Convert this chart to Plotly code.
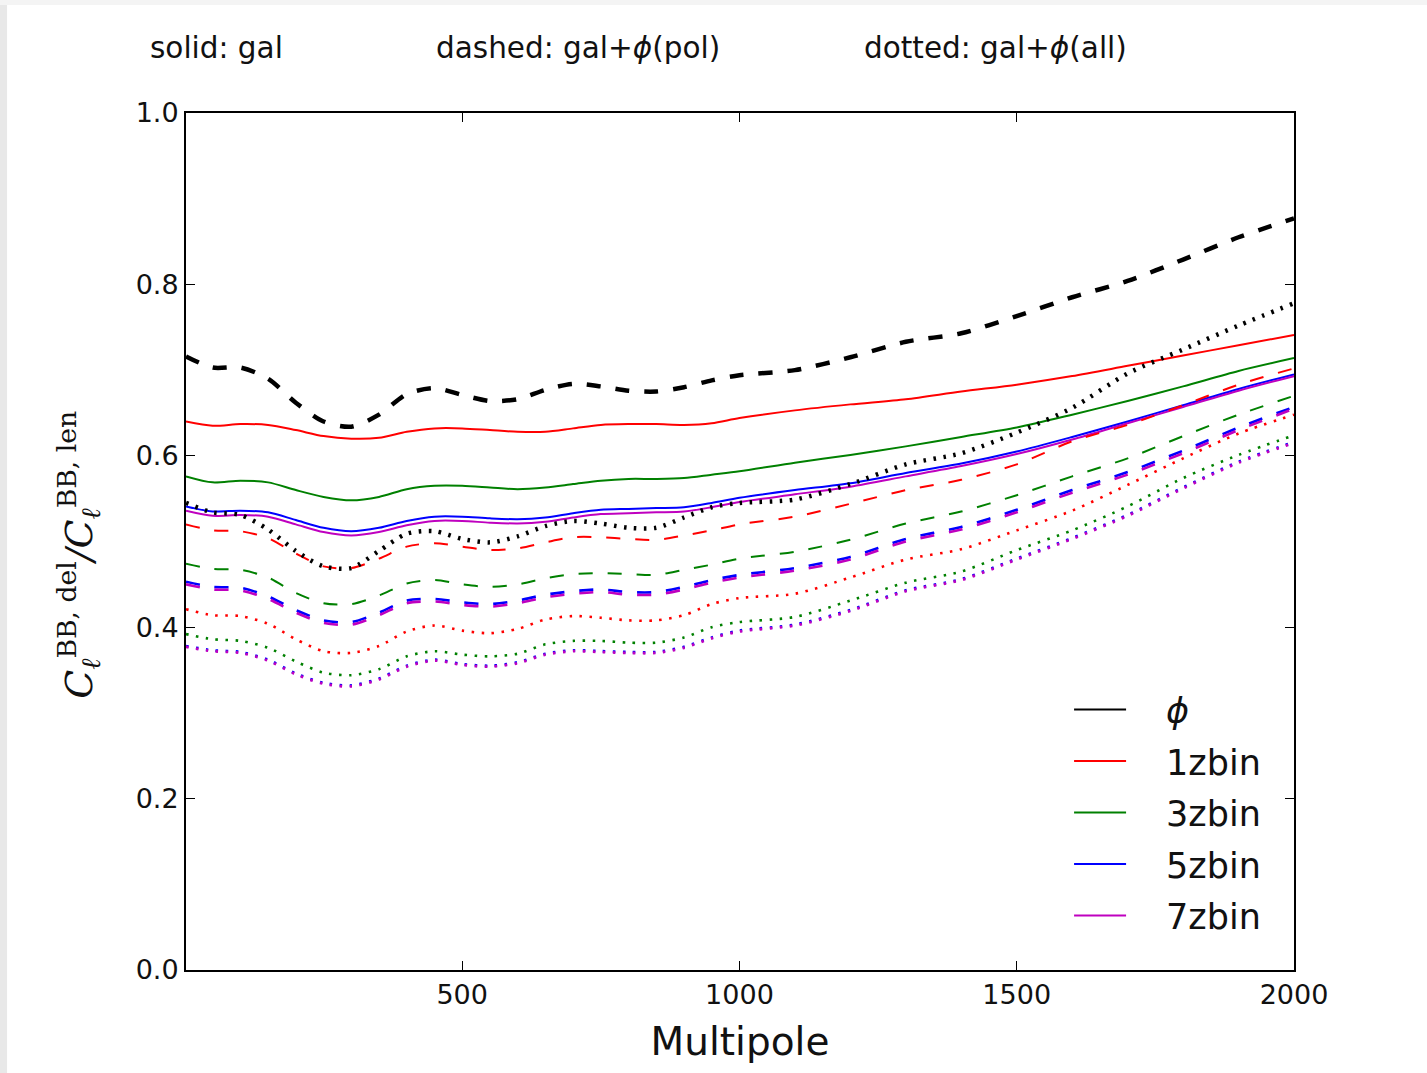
import plotly.graph_objects as go

# ---------------- data ----------------
ell = [2, 50, 100, 150, 200, 250, 300, 350, 400, 450, 500, 550, 600, 650, 700, 750,
       800, 850, 900, 950, 1000, 1100, 1200, 1300, 1400, 1500, 1600, 1700, 1800, 1900, 2000]

# solid: gal
gal_1zbin = [0.640, 0.635, 0.637, 0.636, 0.630, 0.623, 0.620, 0.621, 0.628, 0.632, 0.632, 0.630, 0.628, 0.628,
             0.632, 0.636, 0.637, 0.637, 0.636, 0.638, 0.644, 0.653, 0.660, 0.666, 0.675, 0.683, 0.693, 0.705,
             0.717, 0.729, 0.741]
gal_3zbin = [0.576, 0.569, 0.571, 0.569, 0.560, 0.552, 0.548, 0.552, 0.561, 0.565, 0.565, 0.563, 0.561, 0.563,
             0.567, 0.571, 0.573, 0.573, 0.574, 0.578, 0.582, 0.592, 0.601, 0.611, 0.622, 0.633, 0.648, 0.664,
             0.681, 0.699, 0.714]
gal_5zbin = [0.541, 0.535, 0.536, 0.534, 0.525, 0.516, 0.512, 0.516, 0.524, 0.529, 0.529, 0.527, 0.526, 0.528,
             0.533, 0.537, 0.538, 0.539, 0.540, 0.545, 0.551, 0.560, 0.568, 0.580, 0.591, 0.605, 0.622, 0.640,
             0.659, 0.678, 0.695]
gal_7zbin = [0.536, 0.530, 0.531, 0.529, 0.520, 0.511, 0.507, 0.511, 0.519, 0.524, 0.524, 0.522, 0.521, 0.523,
             0.528, 0.532, 0.533, 0.534, 0.535, 0.540, 0.546, 0.555, 0.564, 0.576, 0.588, 0.602, 0.619, 0.638,
             0.657, 0.676, 0.693]

# dashed: gal + phi(pol)
pol_phi = [0.716, 0.703, 0.703, 0.690, 0.662, 0.640, 0.634, 0.648, 0.672, 0.679, 0.671, 0.664, 0.666, 0.677,
           0.684, 0.681, 0.676, 0.675, 0.680, 0.688, 0.694, 0.700, 0.715, 0.733, 0.743, 0.763, 0.785, 0.804,
           0.829, 0.855, 0.877]
pol_1zbin = [0.520, 0.513, 0.512, 0.504, 0.486, 0.471, 0.469, 0.480, 0.494, 0.498, 0.494, 0.490, 0.492, 0.499,
             0.505, 0.505, 0.503, 0.502, 0.507, 0.513, 0.520, 0.529, 0.544, 0.560, 0.572, 0.590, 0.617, 0.636,
             0.659, 0.683, 0.702]
pol_3zbin = [0.474, 0.468, 0.467, 0.458, 0.440, 0.428, 0.427, 0.437, 0.451, 0.455, 0.450, 0.447, 0.450, 0.457,
             0.462, 0.463, 0.462, 0.461, 0.467, 0.473, 0.480, 0.488, 0.502, 0.521, 0.535, 0.554, 0.576, 0.597,
             0.623, 0.648, 0.670]
pol_5zbin = [0.453, 0.447, 0.446, 0.436, 0.420, 0.408, 0.406, 0.417, 0.431, 0.433, 0.429, 0.427, 0.431, 0.438,
             0.442, 0.444, 0.441, 0.441, 0.447, 0.455, 0.461, 0.469, 0.482, 0.503, 0.517, 0.537, 0.560, 0.581,
             0.606, 0.633, 0.657]
pol_7zbin = [0.450, 0.444, 0.443, 0.433, 0.417, 0.405, 0.403, 0.414, 0.428, 0.430, 0.426, 0.424, 0.428, 0.435,
             0.439, 0.441, 0.438, 0.438, 0.444, 0.452, 0.458, 0.466, 0.479, 0.500, 0.514, 0.534, 0.557, 0.578,
             0.603, 0.630, 0.655]

# dotted: gal + phi(all)
all_phi = [0.545, 0.534, 0.531, 0.514, 0.489, 0.471, 0.469, 0.489, 0.509, 0.512, 0.503, 0.499, 0.506, 0.518,
           0.524, 0.521, 0.516, 0.516, 0.528, 0.540, 0.545, 0.549, 0.567, 0.590, 0.603, 0.627, 0.656, 0.696,
           0.724, 0.752, 0.778]
all_1zbin = [0.421, 0.414, 0.413, 0.404, 0.386, 0.372, 0.370, 0.378, 0.395, 0.402, 0.396, 0.393, 0.398, 0.409,
             0.413, 0.411, 0.408, 0.408, 0.414, 0.427, 0.434, 0.439, 0.458, 0.479, 0.491, 0.513, 0.536, 0.566,
             0.597, 0.626, 0.648]
all_3zbin = [0.392, 0.386, 0.384, 0.376, 0.360, 0.347, 0.344, 0.351, 0.366, 0.372, 0.368, 0.366, 0.369, 0.380,
             0.384, 0.384, 0.382, 0.382, 0.388, 0.400, 0.406, 0.412, 0.431, 0.452, 0.465, 0.490, 0.513, 0.541,
             0.574, 0.601, 0.624]
all_5zbin = [0.378, 0.373, 0.371, 0.362, 0.346, 0.335, 0.332, 0.340, 0.355, 0.362, 0.357, 0.355, 0.359, 0.369,
             0.373, 0.372, 0.371, 0.371, 0.377, 0.388, 0.396, 0.403, 0.420, 0.443, 0.456, 0.480, 0.504, 0.531,
             0.563, 0.593, 0.616]
all_7zbin = [0.377, 0.372, 0.370, 0.361, 0.345, 0.334, 0.331, 0.339, 0.354, 0.361, 0.356, 0.354, 0.358, 0.368,
             0.372, 0.371, 0.370, 0.370, 0.376, 0.387, 0.395, 0.402, 0.419, 0.442, 0.455, 0.479, 0.503, 0.530,
             0.562, 0.592, 0.615]

legend_names = ["<i>ϕ</i>", "1zbin", "3zbin", "5zbin", "7zbin"]
x_ticks = [500, 1000, 1500, 2000]
y_ticks = [0.0, 0.2, 0.4, 0.6, 0.8, 1.0]

# ---------------- styling ----------------
BLACK, RED, GREEN, BLUE, MAG = "#000000", "#ff0000", "#008000", "#0000ff", "#bf00bf"
DASH = "14px,15px"
DOT = "2.5px,7.5px"

fig = go.Figure()

def add(y, color, width, dash, name=None, show=False, group=None):
    fig.add_trace(go.Scatter(
        x=ell, y=y, mode="lines", name=name, showlegend=show, legendgroup=group,
        line=dict(color=color, width=width, dash=dash, shape="spline", smoothing=0.8),
        hoverinfo="skip"))

# solid
add(gal_1zbin, RED, 2.0, "solid")
add(gal_3zbin, GREEN, 2.0, "solid")
add(gal_5zbin, BLUE, 2.0, "solid")
add(gal_7zbin, MAG, 2.0, "solid")
# dashed
add(pol_phi, BLACK, 4.5, DASH)
add(pol_1zbin, RED, 2.0, DASH)
add(pol_3zbin, GREEN, 2.0, DASH)
add(pol_5zbin, BLUE, 2.6, DASH)
add(pol_7zbin, MAG, 2.6, DASH)
# dotted
add(all_phi, BLACK, 4.5, DOT)
add(all_1zbin, RED, 2.6, DOT)
add(all_3zbin, GREEN, 2.6, DOT)
add(all_5zbin, BLUE, 2.8, DOT)
add(all_7zbin, MAG, 2.8, DOT)

# legend entries (solid line samples); em-space pushes label away from the sample line
for nm, col in zip(legend_names, [BLACK, RED, GREEN, BLUE, MAG]):
    fig.add_trace(go.Scatter(x=[None], y=[None], mode="lines", name="\u2003" + nm, legendgroup=nm,
                             line=dict(color=col, width=2.0), showlegend=True))

FONT = "DejaVu Sans"
fig.update_layout(
    width=1427, height=1073,
    margin=dict(l=186, r=133, t=113, b=103),
    paper_bgcolor="white", plot_bgcolor="white",
    font=dict(family=FONT, color="#000000", size=27),
    showlegend=True,
    legend=dict(x=0.797, y=0.338, xanchor="left", yanchor="top",
                font=dict(family=FONT, size=35, color="#111111"),
                bgcolor="rgba(0,0,0,0)", borderwidth=0,
                tracegroupgap=3, itemwidth=52, traceorder="grouped"),
    xaxis=dict(range=[2, 2000], tickvals=x_ticks, ticktext=[str(v) for v in x_ticks],
               showgrid=False, zeroline=False, showline=True, linecolor="black", linewidth=2,
               mirror="ticks", ticks="inside", ticklen=9, tickwidth=1.3, tickcolor="black",
               tickfont=dict(size=27, family=FONT, color="#111111"),
               title=dict(text="Multipole", font=dict(size=39, family=FONT, color="#111111"), standoff=18)),
    yaxis=dict(range=[0, 1.0], tickvals=y_ticks, ticktext=[f"{v:.1f}" for v in y_ticks],
               showgrid=False, zeroline=False, showline=True, linecolor="black", linewidth=2,
               mirror="ticks", ticks="inside", ticklen=9, tickwidth=1.3, tickcolor="black",
               tickfont=dict(size=27, family=FONT, color="#111111")),
)

# y-axis title as rotated annotation (serif, math-like)
ytitle = ("<i>C</i><sub><i>ℓ</i></sub><sup>BB, del</sup>"
          "<i>/C</i><sub><i>ℓ</i></sub><sup>BB, len</sup>")
fig.add_annotation(text=ytitle, xref="paper", yref="paper", x=-0.097, y=0.484,
                   textangle=-90, showarrow=False, xanchor="center", yanchor="middle",
                   font=dict(family="DejaVu Serif", size=38, color="#111111"))

# top line-style captions
for txt, xc in [("solid: gal", 0.0271),
                ("dashed: gal+<i>ϕ</i>(pol)", 0.3538),
                ("dotted: gal+<i>ϕ</i>(all)", 0.731)]:
    fig.add_annotation(text=txt, xref="paper", yref="paper", x=xc, y=1.0759,
                       showarrow=False, xanchor="center", yanchor="middle",
                       font=dict(family=FONT, size=29.5, color="#111111"))

# light grey border of the original screenshot (left and top edges)
fig.add_shape(type="rect", xref="paper", yref="paper", x0=-0.1679, x1=-0.1615, y0=-0.121, y1=1.132,
              fillcolor="#e8e8e8", line=dict(width=0), layer="below")
fig.add_shape(type="rect", xref="paper", yref="paper", x0=-0.1679, x1=1.121, y0=1.126, y1=1.132,
              fillcolor="#f4f4f4", line=dict(width=0), layer="below")

fig.write_html("out.html")
